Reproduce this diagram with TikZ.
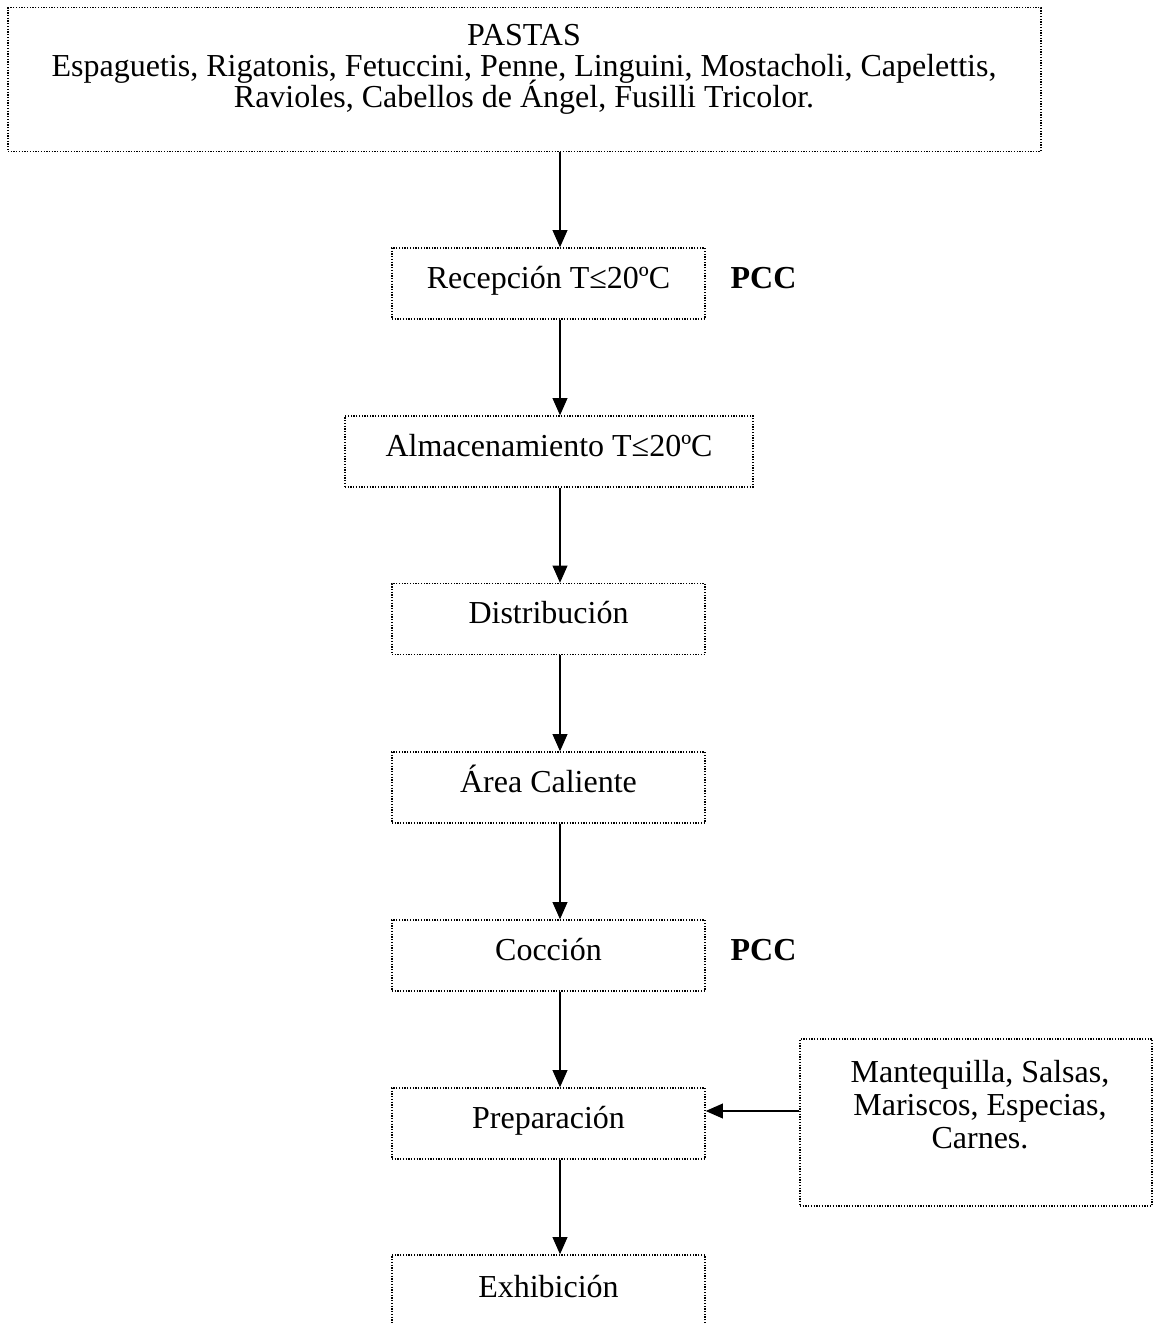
\documentclass[tikz,border=0pt]{standalone}
\usepackage{fontspec}
\setmainfont{Liberation Serif}
\usetikzlibrary{arrows.meta}
\setlength{\lineskiplimit}{-30pt}
\begin{document}
\begin{tikzpicture}[x=0.75pt,y=-0.75pt,
  dotbox/.style={draw=black, line width=0.95pt, dash pattern=on 0.95pt off 1.1pt, inner sep=0pt},
  stepbox/.style={dotbox, minimum width=313*0.75pt, minimum height=71*0.75pt,
     font=\fontsize{24}{24}\selectfont, text height=15pt, text depth=8.1pt},
  txt/.style={font=\fontsize{24}{23.25}\selectfont, align=center, inner sep=0pt},
  pcc/.style={font=\fontsize{24}{24}\selectfont\bfseries, inner sep=0pt, anchor=base},
  arr/.style={line width=1.6pt, -{Triangle[length=13pt,width=11pt]}}]
\useasboundingbox (0,0) rectangle (1154,1325);
\clip (0,0) rectangle (1154,1325);
\coordinate (ax) at (560,0);
% top box
\node[dotbox, minimum width=1033*0.75pt, minimum height=143.5*0.75pt] (top) at (524.5,79.5) {};
\node[txt, anchor=base] (toptxt) at (524,107.5) {PASTAS\\Espaguetis, Rigatonis, Fetuccini, Penne, Linguini, Mostacholi, Capelettis,\\Ravioles, Cabellos de Ángel, Fusilli Tricolor.};
% steps
\node[stepbox] (rec) at (548.5,283.5) {Recepción T≤20ºC};
\node[stepbox, minimum width=408*0.75pt] (alm) at (549,451.5) {Almacenamiento T≤20ºC};
\node[stepbox] (dist) at (548.5,619) {Distribución};
\node[stepbox] (area) at (548.5,787.5) {Área Caliente};
\node[stepbox] (coc) at (548.5,955.5) {Cocción};
\node[stepbox] (prep) at (548.5,1123.5) {Preparación};
\node[stepbox, minimum height=75*0.75pt] (exh) at (548.5,1292.5) {};
\node[font=\fontsize{24}{24}\selectfont, inner sep=0pt, anchor=base] (exhtxt) at (548.5,1297) {Exhibición};
% PCC labels
\node[pcc] (pcc1) at (763.5,288.3) {PCC};
\node[pcc] (pcc2) at (763.5,960) {PCC};
% side box
\node[dotbox, minimum width=352*0.75pt, minimum height=167*0.75pt] (side) at (976,1122.5) {};
\node[txt, font=\fontsize{24}{24.75}\selectfont, anchor=base] (sidetxt) at (980,1148) {Mantequilla, Salsas,\\Mariscos, Especias,\\Carnes.};
% arrows
\draw[arr] (top.south -| ax) -- (rec.north -| ax);
\draw[arr] (rec.south -| ax) -- (alm.north -| ax);
\draw[arr] (alm.south -| ax) -- (dist.north -| ax);
\draw[arr] (dist.south -| ax) -- (area.north -| ax);
\draw[arr] (area.south -| ax) -- (coc.north -| ax);
\draw[arr] (coc.south -| ax) -- (prep.north -| ax);
\draw[arr] (prep.south -| ax) -- (exh.north -| ax);
\coordinate (ay) at (0,1111);
\draw[arr] (side.west |- ay) -- (prep.east |- ay);
\end{tikzpicture}
\end{document}
